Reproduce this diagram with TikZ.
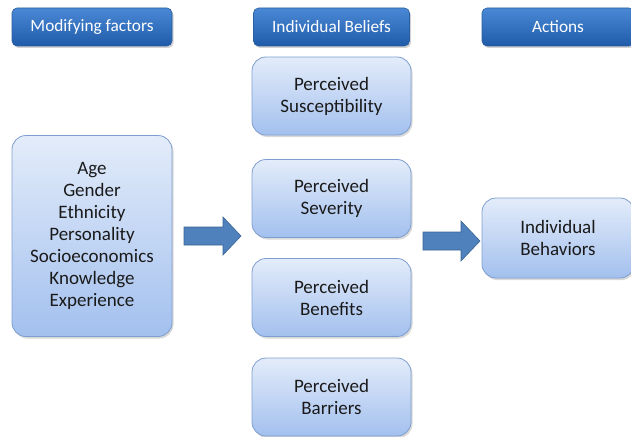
\documentclass[tikz,border=0pt]{standalone}
\usepackage{fontspec}
\setmainfont{Carlito}
\usetikzlibrary{shadows}
\definecolor{hdtop}{HTML}{4A88D6}
\definecolor{hdbot}{HTML}{1F5BA8}
\definecolor{hdline}{HTML}{2A5E9E}
\definecolor{bxtop}{HTML}{E3ECFA}
\definecolor{bxbot}{HTML}{A3C0EE}
\definecolor{bxline}{HTML}{7F9ED0}
\definecolor{arfill}{HTML}{4F81BD}
\definecolor{arline}{HTML}{3B6496}
\definecolor{txt}{HTML}{1A1A1A}
\tikzset{
  header/.style={draw=hdline, line width=0.6pt, rounded corners=5pt, top color=hdtop, bottom color=hdbot,
    text=white, font=\fontsize{17.3}{20}\selectfont, align=center,
    drop shadow={shadow xshift=1.5pt, shadow yshift=-2pt, opacity=0.35}},
  bbox/.style={draw=bxline, line width=0.8pt, rounded corners=14pt, top color=bxtop, bottom color=bxbot,
    text=txt, font=\fontsize{19}{22}\selectfont, align=center,
    drop shadow={shadow xshift=1.5pt, shadow yshift=-2pt, opacity=0.3}},
  blockarrow/.style={fill=arfill, draw=arline, line width=0.6pt, line join=miter}
}
\begin{document}
\begin{tikzpicture}[x=1pt,y=-1pt]
\useasboundingbox (0,0) rectangle (631,436);
\clip (0,0) rectangle (631,436);
% headers
\node[header, minimum width=160pt, minimum height=38pt] (hmod) at (92,27) {Modifying factors};
\node[header, minimum width=156pt, minimum height=38pt] (hbel) at (331.5,27) {Individual Beliefs};
\node[header, minimum width=152pt, minimum height=38pt] (hact) at (558,27) {Actions};
% modifying factors
\node[bbox, minimum width=160pt, minimum height=201pt] (mod) at (92,236)
  {Age\\Gender\\Ethnicity\\Personality\\Socioeconomics\\Knowledge\\Experience};
% beliefs
\node[bbox, minimum width=159pt, minimum height=78pt] (sus) at (331.5,96) {Perceived\\Susceptibility};
\node[bbox, minimum width=159pt, minimum height=78pt] (sev) at (331.5,198.5) {Perceived\\Severity};
\node[bbox, minimum width=159pt, minimum height=78pt] (ben) at (331.5,297.5) {Perceived\\Benefits};
\node[bbox, minimum width=159pt, minimum height=78pt] (bar) at (331.5,397) {Perceived\\Barriers};
% action
\node[bbox, minimum width=152pt, minimum height=80pt] (beh) at (558,238) {Individual\\Behaviors};
% arrows
\draw[blockarrow] (184,227) -- (223,227) -- (223,217) -- (241,236) -- (223,255) -- (223,245) -- (184,245) -- cycle;
\draw[blockarrow] (423,232) -- (461,232) -- (461,221) -- (480,241) -- (461,261) -- (461,250) -- (423,250) -- cycle;
\end{tikzpicture}
\end{document}
